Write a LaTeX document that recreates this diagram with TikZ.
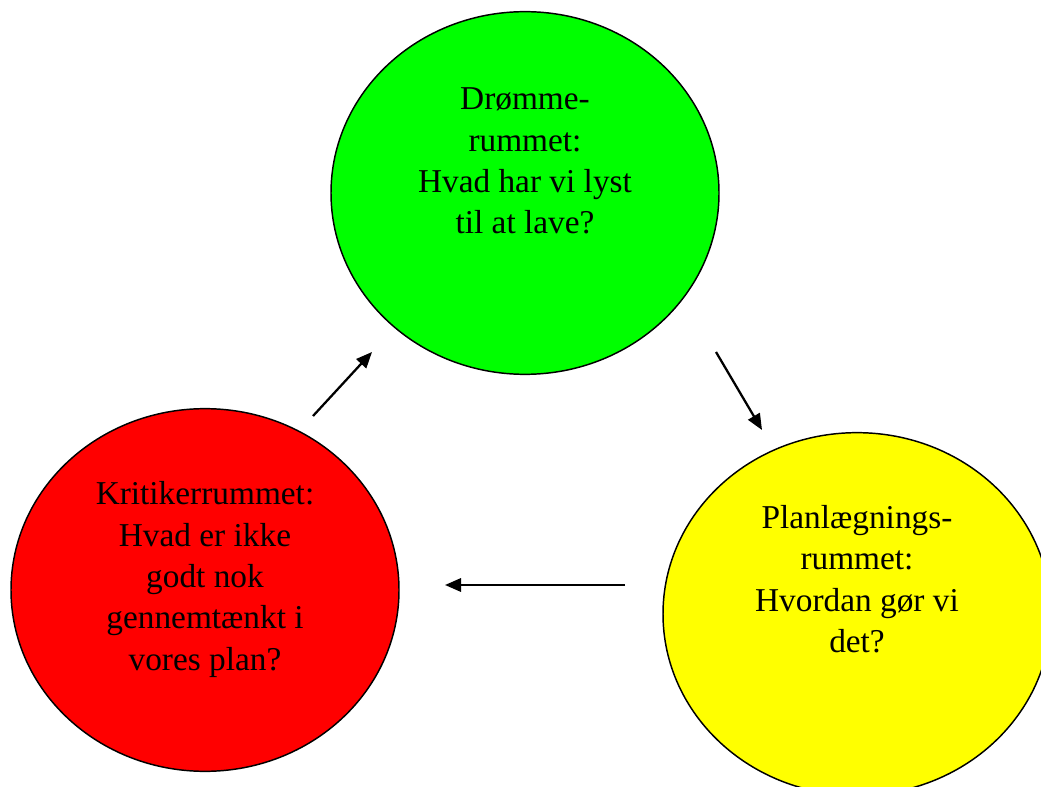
\documentclass[tikz,border=0pt]{standalone}
\usepackage{fontspec}
\setmainfont{Liberation Serif}
\usetikzlibrary{arrows.meta,positioning,shapes.geometric}
\definecolor{dreamgreen}{HTML}{00FF00}
\definecolor{planyellow}{HTML}{FFFF00}
\definecolor{critred}{HTML}{FF0000}

\begin{document}
\begin{tikzpicture}[x=0.75pt,y=-0.75pt,
room/.style={draw,ellipse,line width=1.1pt,inner sep=0pt,
  minimum width=291pt,minimum height=272pt},
txt/.style={align=center,font=\fontsize{25}{31}\selectfont},
arr/.style={-{Triangle[length=12pt,width=10pt]},line width=1.7pt}]
\useasboundingbox (0,0) rectangle (1041,787);
% the three rooms
\node[room,fill=dreamgreen] (dream) at (525,193) {};
\node[room,fill=critred] (crit) at (205,590) {};
\node[room,fill=planyellow] (plan) at (857,614) {};
\node[txt] (dreamtxt) at ([yshift=24pt]dream.center) {Drømme-\\rummet:\\Hvad har vi lyst\\til at lave?};
\node[txt] (crittxt) at ([yshift=8pt]crit.center) {Kritikerrummet:\\Hvad er ikke\\godt nok\\gennemtænkt i\\vores plan?};
\node[txt] (plantxt) at ([yshift=26pt]plan.center) {Planlægnings-\\rummet:\\Hvordan gør vi\\det?};
% arrow ends
\coordinate (a1) at (313,416);\coordinate (a2) at (372,352);
\coordinate (b1) at (716,352);\coordinate (b2) at (762,430);
\coordinate (c1) at (625,585);\coordinate (c2) at (445,585);
\draw[arr] (a1)--(a2);\draw[arr] (b1)--(b2);\draw[arr] (c1)--(c2);
\end{tikzpicture}
\end{document}
